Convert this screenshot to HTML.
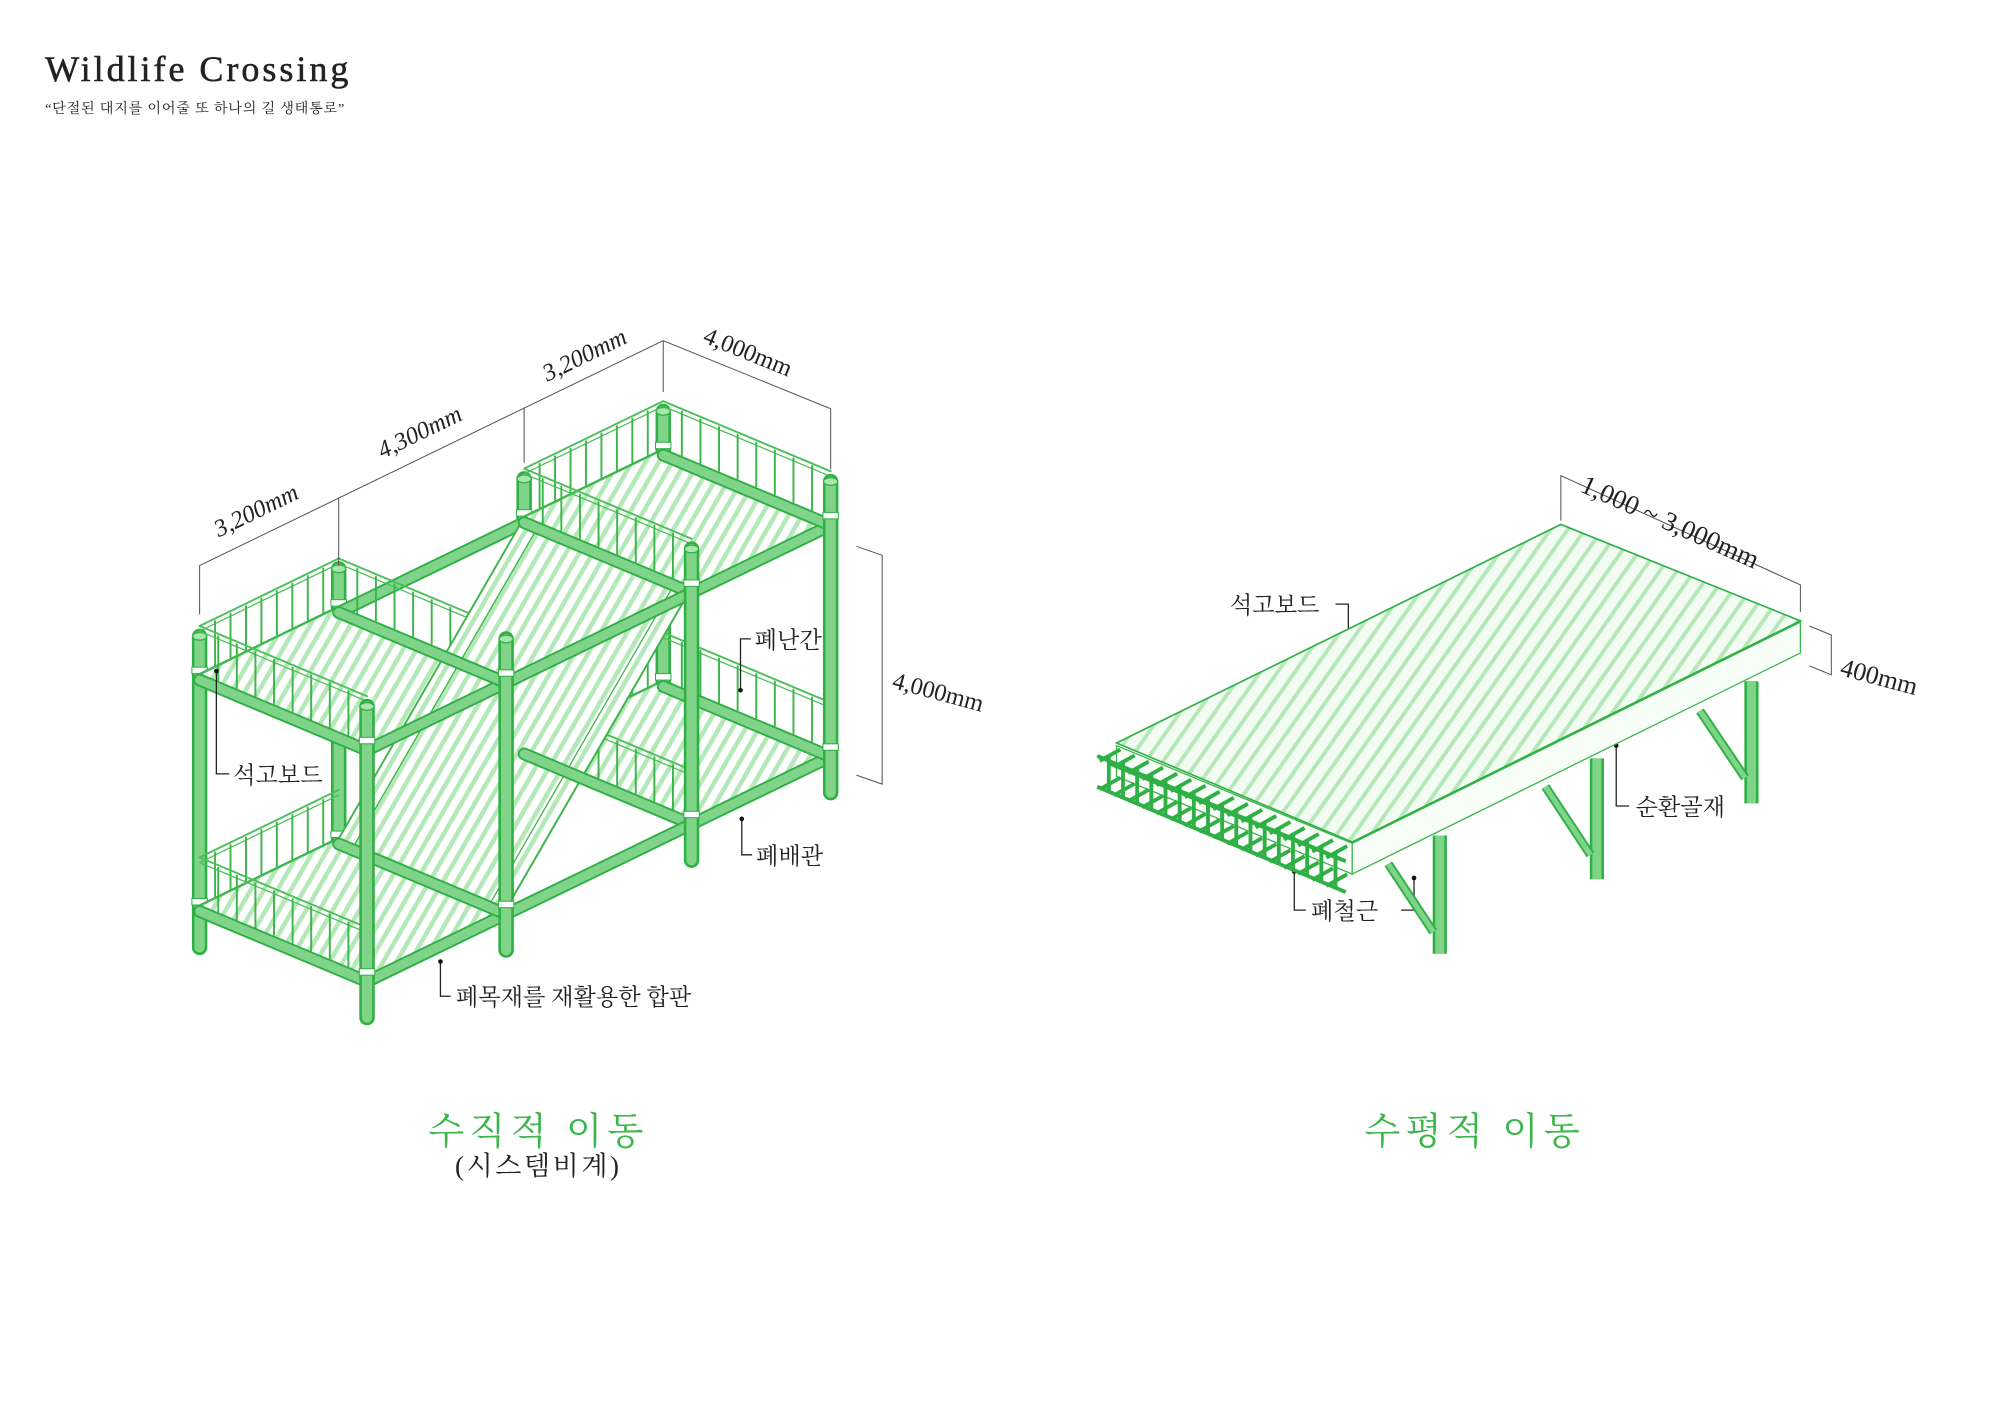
<!DOCTYPE html>
<html><head><meta charset="utf-8"><style>
html,body{margin:0;padding:0;background:#fff;width:2000px;height:1414px;overflow:hidden}
svg{display:block}
text{font-family:"Liberation Serif","Noto Serif CJK SC",serif;fill:#222}
.k{font-family:"Liberation Serif","Noto Serif CJK SC",serif}
</style></head><body>
<svg id="s" width="2000" height="1414" viewBox="0 0 1553 1100" preserveAspectRatio="none" xmlns="http://www.w3.org/2000/svg">
<defs>
<pattern id="h1" patternUnits="userSpaceOnUse" width="9" height="9" patternTransform="rotate(30)">
<rect width="9" height="9" fill="#fff"/><rect width="3.5" height="9" fill="#b4e8b8"/></pattern>
<pattern id="h2" patternUnits="userSpaceOnUse" width="11" height="11" patternTransform="rotate(35)">
<rect width="11" height="11" fill="#f3fcf3"/><rect width="3" height="11" fill="#b4e8b8"/></pattern>
</defs>
<text x="35" y="63" font-size="28" letter-spacing="2.3" stroke="#222" stroke-width="0.4">Wildlife Crossing</text>
<text x="35" y="88" font-size="11" class="k" fill="#333" letter-spacing="0.6">“단절된 대지를 이어줄 또 하나의 길 생태통로”</text>
<g id="L"></g>
<g stroke="#555" stroke-width="0.8" fill="none">
<polyline points="155,478 155,440 515,265 645,318 645,365"/>
<line x1="263" y1="440" x2="263" y2="387"/>
<line x1="407" y1="360" x2="407" y2="317"/>
<line x1="515" y1="305" x2="515" y2="265"/>
<polyline points="665,425 685,432 685,610 665,603"/>
</g>
<text font-size="19" transform="translate(170,418) rotate(-26)" font-style="italic">3,200mm</text>
<text font-size="19" transform="translate(297,357) rotate(-26)" font-style="italic">4,300mm</text>
<text font-size="19" transform="translate(425,297) rotate(-26)" font-style="italic">3,200mm</text>
<text font-size="19" transform="translate(545,266) rotate(22)">4,000mm</text>
<text font-size="19" transform="translate(692,535) rotate(15)">4,000mm</text>
<g stroke="#222" stroke-width="1" fill="none">
<polyline points="168,522 168,602 178,602"/>
<polyline points="575,537 575,497 583,497"/>
<polyline points="576,637 576,665 584,665"/>
<polyline points="342,748 342,775 350,775"/>
<polyline points="1047,497 1047,470 1037,470"/>
<polyline points="1255,580 1255,627 1265,627"/>
<polyline points="1005,678 1005,708 1014,708"/>
<polyline points="1098,683 1098,708 1088,708"/>
</g>
<g fill="#111"><circle cx="168" cy="522" r="1.8"/><circle cx="575" cy="537" r="1.8"/><circle cx="576" cy="637" r="1.8"/><circle cx="342" cy="748" r="1.8"/><circle cx="1047" cy="497" r="1.8"/><circle cx="1255" cy="580" r="1.8"/><circle cx="1005" cy="678" r="1.8"/><circle cx="1098" cy="683" r="1.8"/></g>
<g font-size="18">
<text x="181" y="609" class="k">석고보드</text>
<text x="586" y="504" class="k">폐난간</text>
<text x="587" y="672" class="k">폐배관</text>
<text x="354" y="782" class="k">폐목재를 재활용한 합판</text>
<text x="955" y="477" class="k">석고보드</text>
<text x="1270" y="634" class="k">순환골재</text>
<text x="1018" y="715" class="k">폐철근</text>
</g>
<g>
<line x1="1118" y1="650" x2="1118" y2="742" stroke="#2fb045" stroke-width="11"/>
<line x1="1118" y1="650" x2="1118" y2="742" stroke="#7fd488" stroke-width="7"/>
<line x1="1240" y1="590" x2="1240" y2="684" stroke="#2fb045" stroke-width="11"/>
<line x1="1240" y1="590" x2="1240" y2="684" stroke="#7fd488" stroke-width="7"/>
<line x1="1360" y1="530" x2="1360" y2="625" stroke="#2fb045" stroke-width="11"/>
<line x1="1360" y1="530" x2="1360" y2="625" stroke="#7fd488" stroke-width="7"/>
<g stroke="#2fb045" stroke-width="7"><line x1="1078" y1="672" x2="1113" y2="725"/><line x1="1200" y1="612" x2="1235" y2="665"/><line x1="1320" y1="553" x2="1355" y2="605"/></g>
<g stroke="#7fd488" stroke-width="4"><line x1="1078" y1="672" x2="1113" y2="725"/><line x1="1200" y1="612" x2="1235" y2="665"/><line x1="1320" y1="553" x2="1355" y2="605"/></g>
<polygon points="867,580 1050,656 1050,680 867,604" fill="#f7fdf7" stroke="#3cb54a" stroke-width="1"/>
<polygon points="1050,656 1398,484 1398,508 1050,680" fill="#f7fdf7" stroke="#3cb54a" stroke-width="1"/>
<polygon points="867,578 1212,408 1398,483 1050,655" fill="url(#h2)" stroke="#2fb045" stroke-width="1.3"/>
<g id="rebar" stroke="#2fb045" stroke-width="3"></g>
</g>
<g stroke="#555" stroke-width="0.8" fill="none">
<polyline points="1212,405 1212,370 1398,455 1398,476"/>
<polyline points="1405,487 1422,494 1422,525 1405,518"/>
</g>
<text font-size="21" transform="translate(1226,382) rotate(24)">1,000 ~ 3,000mm</text>
<text font-size="20" transform="translate(1428,525) rotate(15)">400mm</text>
<text x="418" y="890" font-size="29" text-anchor="middle" class="k" style="fill:#3cb54a" letter-spacing="4">수직적 이동</text>
<text x="418" y="914" font-size="21" text-anchor="middle" class="k" style="fill:#222" letter-spacing="2">(시스템비계)</text>
<text x="1145" y="890" font-size="29" text-anchor="middle" class="k" style="fill:#3cb54a" letter-spacing="4">수평적 이동</text>
</svg>
<script>
var NS="http://www.w3.org/2000/svg",G=document.getElementById('L');
function P(L,D,H){return [155+L+D,735-0.486*L+0.42*D-H];}
function el(t,a,p){var e=document.createElementNS(NS,t);for(var k in a)e.setAttribute(k,a[k]);(p||G).appendChild(e);return e;}
function ln(a,b,c,w){el('line',{x1:a[0],y1:a[1],x2:b[0],y2:b[1],stroke:c,'stroke-width':w,'stroke-linecap':'round'});}
function beam(a,b){ln(a,b,'#2fb045',10);ln(a,b,'#80d489',7);}
function post(L,D){var a=P(L,D,-2),b=P(L,D,240);ln(a,b,'#2fb045',12);ln(a,b,'#7fd488',8);
 var t=P(L,D,240);el('ellipse',{cx:t[0],cy:t[1],rx:5.5,ry:3,fill:'#a9e6ae',stroke:'#2fb045','stroke-width':1});
 [30,210].forEach(function(h){var q=P(L,D,h+4);el('rect',{x:q[0]-6,y:q[1]-2,width:12,height:5,fill:'#fff',stroke:'#2fb045','stroke-width':0.8});});}
function pts(a){return a.map(function(p){return p[0]+','+p[1]}).join(' ');}
function rail(a,b,H){
 ln(P(a[0],a[1],H+38),P(b[0],b[1],H+38),'#4cc05a',1.5);ln(P(a[0],a[1],H+34),P(b[0],b[1],H+34),'#4cc05a',1);
 var n=9;for(var i=1;i<n;i++){var L=a[0]+(b[0]-a[0])*i/n,D=a[1]+(b[1]-a[1])*i/n;ln(P(L,D,H+2),P(L,D,H+36),'#3cb54a',1.5);}}
var units=[[0,108],[252,360]];
units.forEach(function(u){post(u[0],0);post(u[1],0);});
units.forEach(function(u){[30,210].forEach(function(h){beam(P(u[0],0,h-4),P(u[1],0,h-4));});});
beam(P(108,0,206),P(252,0,206));beam(P(108,0,26),P(252,0,26));
units.forEach(function(u,i){[30,210].forEach(function(h){
 el('polygon',{points:pts([P(u[0],0,h),P(u[1],0,h),P(u[1],130,h),P(u[0],130,h)]),fill:'url(#h1)',stroke:'#4cc05a','stroke-width':1});
 rail([u[0],0],[u[1],0],h);rail([u[0],0],[u[0],130],h);
 if(!(i==0&&h==30)) rail([u[1],0],[u[1],130],h);
});});
el('polygon',{points:pts([P(252,0,210),P(252,130,210),P(108,130,30),P(108,0,30)]),fill:'url(#h1)',stroke:'#3cb54a','stroke-width':1.5});
ln(P(252,12,210),P(108,12,30),'#3cb54a',1);ln(P(252,118,210),P(108,118,30),'#3cb54a',1);
units.forEach(function(u){[30,210].forEach(function(h){beam(P(u[0],130,h-4),P(u[1],130,h-4));beam(P(u[0],0,h-4),P(u[0],130,h-4));beam(P(u[1],0,h-4),P(u[1],130,h-4));});});
beam(P(108,130,206),P(252,130,206));beam(P(108,130,26),P(252,130,26));
units.forEach(function(u){post(u[0],130);post(u[1],130);});
var R=document.getElementById('rebar');
function rl(x1,y1,x2,y2){el('line',{x1:x1,y1:y1,x2:x2,y2:y2},R);}
rl(852,588,1045,670);rl(852,612,1045,694);rl(862,594,1040,668);
for(var i=0;i<17;i++){var x=858+i*11,y=590+i*4.7;rl(x-4,y+2,x+12,y-7);rl(x-4,y+24,x+12,y+15);rl(x+3,y-3,x+3,y+25);}
</script>
</body></html>
